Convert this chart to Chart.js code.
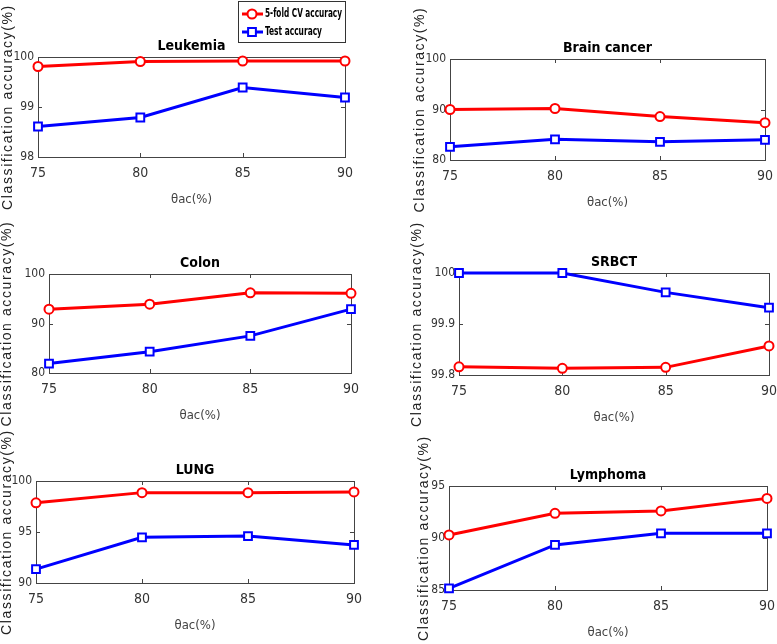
<!DOCTYPE html>
<html>
<head>
<meta charset="utf-8">
<script src="https://cdn.jsdelivr.net/npm/chart.js@4/dist/chart.umd.min.js"></script>
<style>
html, body { margin: 0; padding: 0; background: #fff; overflow: hidden; }
#wrap { position: relative; width: 777px; height: 644px; }
#wrap canvas { position: absolute; }
</style>
</head>
<body>
<div id="wrap"></div>
<script>
// x values (theta_ac, %)
const thetaAc = [75, 80, 85, 90];

// accuracies
const leukemiaCV = [99.81, 99.91, 99.92, 99.92];
const leukemiaTest = [98.61, 98.79, 99.39, 99.19];
const brainCV = [90.0, 90.2, 88.6, 87.4];
const brainTest = [82.6, 84.1, 83.6, 84.0];
const colonCV = [92.9, 93.9, 96.2, 96.1];
const colonTest = [81.9, 84.3, 87.5, 92.9];
const srbctCV = [99.816, 99.813, 99.815, 99.857];
const srbctTest = [100, 100, 99.962, 99.932];
const lungCV = [97.86, 98.86, 98.86, 98.93];
const lungTest = [91.36, 94.48, 94.6, 93.73];
const lymphomaCV = [90.29, 92.37, 92.6, 93.81];
const lymphomaTest = [85.16, 89.33, 90.45, 90.45];

// y tick labels per panel
const leukemiaTicks = [98, 99, 100];
const brainTicks = [80, 90, 100];
const colonTicks = [80, 90, 100];
const srbctTicks = [99.8, 99.9, 100];
const lungTicks = [90, 95, 100];
const lymphomaTicks = [85, 90, 95];

const seriesNames = ['5-fold CV accuracy', 'Test accuracy'];

// pick a condensed face if one is installed
const probe = document.createElement('canvas').getContext('2d');
function hasFont(name) {
  probe.font = "20px monospace";
  const a = probe.measureText('100 abc').width;
  probe.font = "20px '" + name + "', monospace";
  return probe.measureText('100 abc').width !== a;
}
let NARROW = "'Liberation Sans', Arial, sans-serif";
let narrowScale = 0.85;
for (const f of ['Liberation Sans Narrow', 'DejaVu Sans Condensed', 'Roboto Condensed']) {
  if (hasFont(f)) { NARROW = "'" + f + "', 'Liberation Sans', sans-serif"; narrowScale = 1; break; }
}
const SANS = "'Liberation Sans', Arial, sans-serif";

// plot-area placement of each panel on the page
const panels = [
  { title: 'Leukemia', cv: leukemiaCV, test: leukemiaTest, ticks: leukemiaTicks, L: 38, T: 57, R: 347, B: 157, yTitleX: 8, legend: true },
  { title: 'Brain cancer', cv: brainCV, test: brainTest, ticks: brainTicks, L: 450, T: 59, R: 767, B: 160, yTitleX: 420 },
  { title: 'Colon', cv: colonCV, test: colonTest, ticks: colonTicks, L: 49, T: 274, R: 353, B: 373, yTitleX: 7 },
  { title: 'SRBCT', cv: srbctCV, test: srbctTest, ticks: srbctTicks, L: 459, T: 273, R: 771, B: 375, yTitleX: 417 },
  { title: 'LUNG', cv: lungCV, test: lungTest, ticks: lungTicks, L: 36, T: 481, R: 356, B: 583, yTitleX: 7 },
  { title: 'Lymphoma', cv: lymphomaCV, test: lymphomaTest, ticks: lymphomaTicks, L: 449, T: 486, R: 769, B: 590, yTitleX: 424 }
];

// MATLAB-like box with inward ticks
const framePlugin = {
  id: 'frame',
  beforeDatasetsDraw(chart) {
    const { ctx, chartArea: a, scales: { x, y } } = chart;
    ctx.save();
    ctx.strokeStyle = '#444';
    ctx.lineWidth = 1;
    ctx.strokeRect(Math.round(a.left) + 0.5, Math.round(a.top) + 0.5, Math.round(a.width), Math.round(a.height));
    ctx.beginPath();
    x.ticks.forEach(t => {
      const px = Math.round(x.getPixelForValue(t.value)) + 0.5;
      ctx.moveTo(px, a.bottom); ctx.lineTo(px, a.bottom - 4);
      ctx.moveTo(px, a.top); ctx.lineTo(px, a.top + 4);
    });
    y.ticks.forEach(t => {
      const py = Math.round(y.getPixelForValue(t.value)) + 0.5;
      ctx.moveTo(a.left, py); ctx.lineTo(a.left + 4, py);
      ctx.moveTo(a.right, py); ctx.lineTo(a.right - 4, py);
    });
    ctx.stroke();
    ctx.restore();
  }
};

const wrap = document.getElementById('wrap');

function makeChart(p) {
  const yTitleSize = 14;
  const cl = Math.round(p.yTitleX - yTitleSize * 0.6);
  const mid = (p.T + p.B) / 2;
  const ct = Math.round(Math.min(p.T - 45, mid - 112));
  const cb = Math.round(Math.max(p.B + 52, mid + 112));
  const cr = Math.round(p.R + 14);
  const xH = 50;
  const titleBlock = 14 * 1.2 + 2;

  const canvas = document.createElement('canvas');
  canvas.width = cr - cl;
  canvas.height = cb - ct;
  canvas.style.left = cl + 'px';
  canvas.style.top = ct + 'px';
  wrap.appendChild(canvas);

  const plugins = [framePlugin];
  if (p.legend) {
    plugins.push({
      id: 'boxLegend',
      afterDraw(chart) {
        const ctx = chart.ctx;
        const bx = 238 - cl, by = 1 - ct, bw = 107, bh = 41;
        ctx.save();
        ctx.fillStyle = '#fff';
        ctx.fillRect(bx, by, bw, bh);
        ctx.strokeStyle = '#333';
        ctx.lineWidth = 1;
        ctx.strokeRect(bx + 0.5, by + 0.5, bw, bh);
        chart.data.datasets.forEach((ds, i) => {
          const ly = by + 13 + i * 18;
          ctx.strokeStyle = ds.borderColor;
          ctx.lineWidth = 3;
          ctx.beginPath();
          ctx.moveTo(bx + 4, ly);
          ctx.lineTo(bx + 25, ly);
          ctx.stroke();
          ctx.lineWidth = 2;
          ctx.fillStyle = '#fff';
          Chart.helpers.drawPoint(ctx, { pointStyle: ds.pointStyle, radius: ds.pointRadius, borderWidth: 2, rotation: 0 }, bx + 14, ly);
          ctx.fillStyle = '#000';
          ctx.font = 'bold 13px ' + NARROW;
          ctx.textBaseline = 'middle';
          ctx.textAlign = 'left';
          ctx.fillText(ds.label, bx + 27, ly, i === 0 ? 77 : 57);
        });
        ctx.restore();
      }
    });
  }

  const yTicks = p.ticks;
  return new Chart(canvas, {
    type: 'line',
    data: {
      datasets: [
        {
          label: seriesNames[0],
          data: thetaAc.map((x, i) => ({ x: x, y: p.cv[i] })),
          borderColor: '#ff0000',
          borderWidth: 3,
          pointStyle: 'circle',
          pointRadius: 4.5,
          pointBorderWidth: 2,
          pointBackgroundColor: '#fff',
          pointBorderColor: '#ff0000',
          tension: 0,
          clip: false
        },
        {
          label: seriesNames[1],
          data: thetaAc.map((x, i) => ({ x: x, y: p.test[i] })),
          borderColor: '#0000ff',
          borderWidth: 3,
          pointStyle: 'rect',
          pointRadius: 5.5,
          pointBorderWidth: 2,
          pointBackgroundColor: '#fff',
          pointBorderColor: '#0000ff',
          tension: 0,
          clip: false
        }
      ]
    },
    options: {
      responsive: false,
      animation: false,
      layout: {
        padding: { left: 0, right: cr - p.R, top: p.T - ct - titleBlock, bottom: cb - (p.B + xH) }
      },
      plugins: {
        legend: { display: false },
        tooltip: { enabled: false },
        title: {
          display: true,
          text: p.title,
          fullSize: false,
          color: '#000',
          font: { family: NARROW, size: 14, weight: 'bold', lineHeight: 1.2 },
          padding: { top: 0, bottom: 2 }
        }
      },
      scales: {
        x: {
          type: 'linear',
          min: thetaAc[0],
          max: thetaAc[thetaAc.length - 1],
          ticks: { stepSize: 5, padding: 8, color: '#333', font: { family: NARROW, size: Math.round(14 * narrowScale) } },
          grid: { display: false, drawTicks: false },
          border: { display: false },
          title: {
            display: true,
            text: 'θac(%)',
            color: '#444',
            font: { family: NARROW, size: 13, lineHeight: 1.2 },
            padding: { top: 0, bottom: 0 }
          },
          afterFit(s) { s.height = xH; }
        },
        y: {
          min: yTicks[0],
          max: yTicks[yTicks.length - 1],
          ticks: {
            stepSize: yTicks[1] - yTicks[0],
            padding: 4,
            color: '#333',
            font: { family: NARROW, size: Math.round(12 * narrowScale) },
            callback: v => yTicks.find(t => Math.abs(t - v) < 1e-6) !== undefined ? String(+v.toFixed(1)) : ''
          },
          grid: { display: false, drawTicks: false },
          border: { display: false },
          title: {
            display: true,
            text: 'Classification accuracy(%)',
            color: '#222',
            font: { family: SANS, size: yTitleSize, lineHeight: 1.2 },
            padding: { top: 0, bottom: 0 }
          },
          afterFit(s) {
            s.width = p.L - cl;
            // the source figure's axis label is stretched lengthwise; widen its spacing
            if (!s._spaced) {
              const orig = s.drawTitle;
              s.drawTitle = function () {
                this.ctx.letterSpacing = '1.6px';
                orig.call(this);
                this.ctx.letterSpacing = '0px';
              };
              s._spaced = true;
            }
          }
        }
      }
    },
    plugins: plugins
  });
}

panels.forEach(makeChart);
</script>
</body>
</html>
